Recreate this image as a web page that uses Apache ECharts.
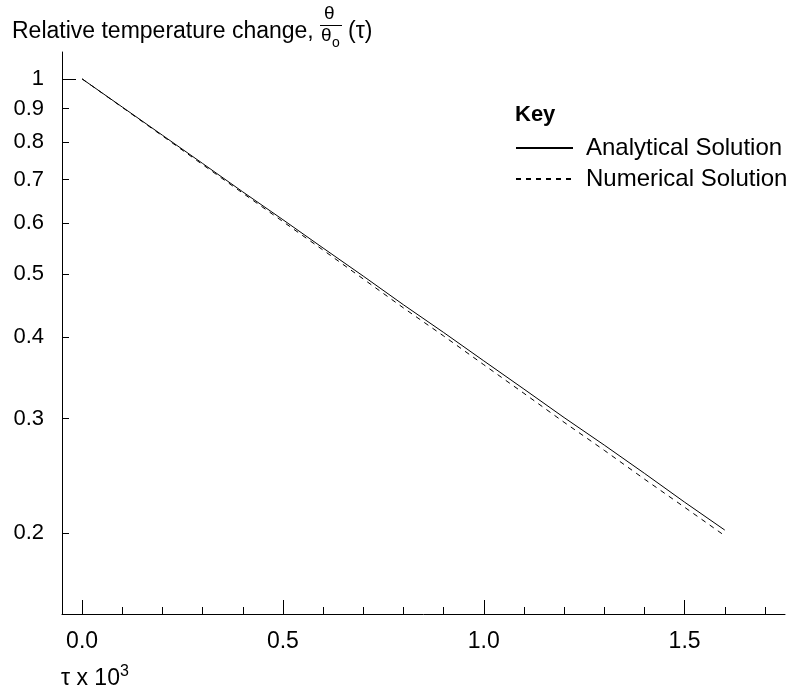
<!DOCTYPE html>
<html>
<head>
<meta charset="utf-8">
<script src="https://cdn.jsdelivr.net/npm/echarts@6/dist/echarts.min.js"></script>
<style>
  html, body { margin: 0; padding: 0; background: #fff; }
  #chart { width: 793px; height: 693px; }
</style>
</head>
<body>
<div id="chart"></div>
<script>
// tau x 10^3
var tau = [0.0, 0.1, 0.2, 0.3, 0.4, 0.5, 0.6, 0.7, 0.8, 0.9, 1.0, 1.1, 1.2, 1.3, 1.4, 1.5, 1.6];
var analytical = [1.0, 0.905, 0.819, 0.741, 0.670, 0.607, 0.549, 0.497, 0.449, 0.407, 0.368, 0.333, 0.301, 0.273, 0.247, 0.223, 0.202];
var numerical = [1.0, 0.904, 0.817, 0.738, 0.667, 0.603, 0.545, 0.492, 0.444, 0.402, 0.363, 0.328, 0.296, 0.268, 0.242, 0.219, 0.198];

var xMinorTicks = [0, 0.1, 0.2, 0.3, 0.4, 0.5, 0.6, 0.7, 0.8, 0.9, 1.0, 1.1, 1.2, 1.3, 1.4, 1.5, 1.6, 1.7];
var xLabels = [0, 0.5, 1.0, 1.5];
var yLabels = [0.2, 0.3, 0.4, 0.5, 0.6, 0.7, 0.8, 0.9, 1];

var font = 'Liberation Sans, Arial, sans-serif';

function pairs(xs, ys) {
  return xs.map(function (x, i) { return [x, ys[i]]; });
}

var chart = echarts.init(document.getElementById('chart'));
chart.setOption({
  animation: false,
  backgroundColor: '#fff',
  textStyle: { fontFamily: font, color: '#000' },
  grid: { left: 62, right: 8, top: 52, bottom: 79 },
  title: {
    text: 'Key',
    left: 510,
    top: 99,
    textStyle: { fontFamily: font, fontSize: 22, fontWeight: 'bold', color: '#000' }
  },
  legend: {
    orient: 'vertical',
    left: 510,
    top: 131,
    itemWidth: 57,
    itemHeight: 16,
    itemGap: 7,
    itemStyle: { opacity: 0 },
    textStyle: { fontFamily: font, fontSize: 24, color: '#000', padding: [0, 0, 0, 8] },
    data: ['Analytical Solution', 'Numerical Solution']
  },
  xAxis: [{
    type: 'value',
    min: -0.05,
    max: 1.75,
    splitLine: { show: false },
    axisLine: { show: true, lineStyle: { color: '#000', width: 1 } },
    axisTick: { show: true, inside: true, length: 7, customValues: xMinorTicks, lineStyle: { color: '#000' } },
    axisLabel: {
      customValues: xLabels,
      margin: 16,
      fontSize: 23,
      color: '#000',
      fontFamily: font,
      formatter: function (v) { return v.toFixed(1); }
    }
  }, {
    type: 'value',
    min: -0.05,
    max: 1.75,
    position: 'bottom',
    splitLine: { show: false },
    axisLine: { show: false },
    axisTick: { show: true, inside: true, length: 14, customValues: xLabels, lineStyle: { color: '#000' } },
    axisLabel: { show: false }
  }],
  yAxis: [{
    type: 'log',
    min: 0.15,
    max: 1.1,
    splitLine: { show: false },
    minorTick: { show: false },
    axisLine: { show: true, onZero: false, lineStyle: { color: '#000', width: 1 } },
    axisTick: { show: true, inside: true, length: 7, customValues: yLabels, lineStyle: { color: '#000' } },
    axisLabel: {
      customValues: yLabels,
      margin: 18,
      fontSize: 22,
      color: '#000',
      fontFamily: font,
      formatter: function (v) { return String(+v.toFixed(1)); }
    }
  }, {
    type: 'log',
    min: 0.15,
    max: 1.1,
    position: 'left',
    splitLine: { show: false },
    axisLine: { show: false, onZero: false },
    axisTick: { show: true, inside: true, length: 14, customValues: [1], lineStyle: { color: '#000' } },
    axisLabel: { show: false }
  }],
  graphic: [
    {
      type: 'text', left: 12, top: 20,
      style: { text: 'Relative temperature change,', font: '23px ' + font, fill: '#000' }
    },
    {
      type: 'text', left: 324, top: 4,
      style: { text: 'θ', font: '19px ' + font, fill: '#000' }
    },
    {
      type: 'rect', left: 320, top: 25, shape: { width: 22, height: 1 },
      style: { fill: '#000' }
    },
    {
      type: 'text', left: 321, top: 26,
      style: { text: 'θ', font: '19px ' + font, fill: '#000' }
    },
    {
      type: 'text', left: 332, top: 36,
      style: { text: 'o', font: '14px ' + font, fill: '#000' }
    },
    {
      type: 'text', left: 348, top: 20,
      style: { text: '(τ)', font: '23px ' + font, fill: '#000' }
    },
    {
      type: 'text', left: 61, top: 664,
      style: {
        text: '{a|τ x 10}{b|3}',
        rich: {
          a: { font: '23px ' + font, fill: '#000', verticalAlign: 'bottom' },
          b: { font: '16px ' + font, fill: '#000', verticalAlign: 'top', padding: [0, 0, 10, 0] }
        }
      }
    }
  ],
  series: [{
    name: 'Analytical Solution',
    type: 'line',
    symbol: 'none',
    data: pairs(tau, analytical),
    lineStyle: { color: '#000', width: 1, type: 'solid' },
    itemStyle: { color: '#000' }
  }, {
    name: 'Numerical Solution',
    type: 'line',
    symbol: 'none',
    data: pairs(tau, numerical),
    lineStyle: { color: '#000', width: 1, type: [5, 5] },
    itemStyle: { color: '#000' }
  }]
});
</script>
</body>
</html>
